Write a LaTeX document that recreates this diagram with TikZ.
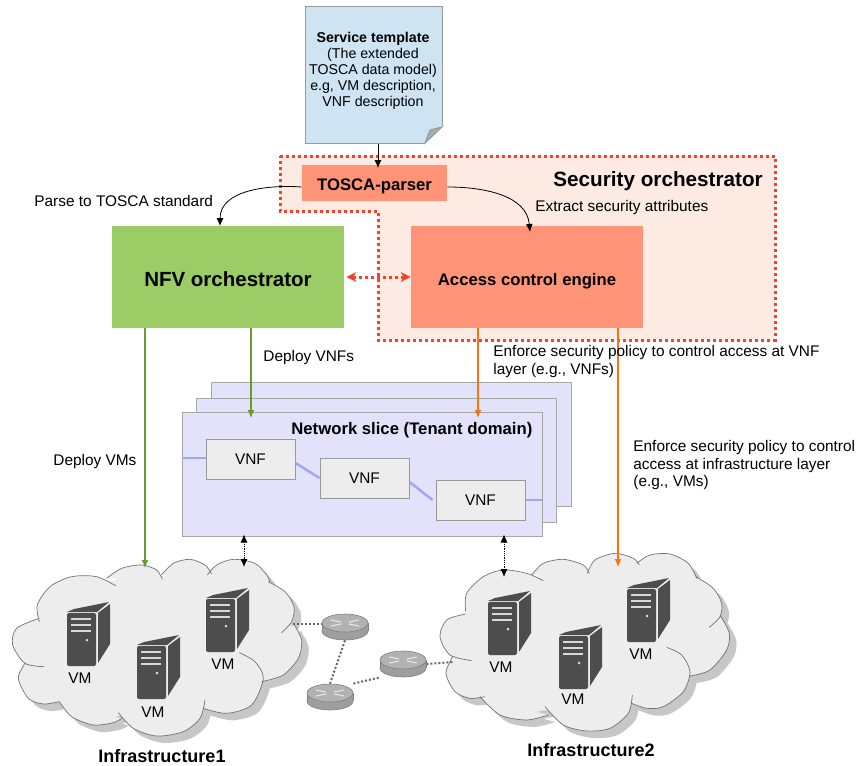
\documentclass[tikz,border=0pt]{standalone}
\usepackage{xcolor}
\usepackage{fontspec}
\setmainfont{Liberation Sans}
\usetikzlibrary{arrows.meta}

\definecolor{docblue}{HTML}{CFE4F2}
\definecolor{salmon}{HTML}{FF9478}
\definecolor{nfvgreen}{HTML}{9CCC65}
\definecolor{secpink}{HTML}{FDEAE3}
\definecolor{secred}{HTML}{F5412A}
\definecolor{slicefill}{HTML}{E2E2FB}
\definecolor{linkblue}{HTML}{A5A5F5}
\definecolor{arrowgreen}{HTML}{6A9B30}
\definecolor{arroworange}{HTML}{F97316}
\definecolor{servergray}{HTML}{4D4D4D}

\tikzset{
  txt/.style = {inner sep=0pt, font=\fontsize{15.4}{17.5}\selectfont, align=left},
  vm/.style = {inner sep=0pt, font=\fontsize{15.4}{17.5}\selectfont},
  boldtxt/.style = {inner sep=0pt, font=\fontsize{16.7}{19}\bfseries\selectfont},
  block/.style = {inner sep=0pt, text depth=0pt},
  slice/.style = {draw=black!35, fill=slicefill, line width=1pt, minimum width=360pt, minimum height=124pt},
  vnf/.style = {draw=black!40, fill=black!7, line width=1pt, minimum width=89pt, minimum height=40pt, font=\fontsize{15.4}{17.5}\selectfont},
  routerbox/.style = {minimum width=46pt, minimum height=26pt, inner sep=0pt},
  link/.style = {linkblue, line width=2.5pt},
  wire/.style = {dash pattern=on 2pt off 2pt, line width=2pt, black!60},
  cloudedge/.style = {draw=black!55, line width=0.7pt},
  % server tower, anchored at the top left of its front face
  server/.pic = {
    \fill[servergray] (7,-4) -- (42,-11) -- (30,-1) -- (0,-1) -- cycle;
    \fill[servergray, rounded corners=2pt] (0,0) rectangle (29,53);
    \fill[servergray] (31,0) -- (43,-9) -- (43,31) -- (31,50) -- cycle;
    \foreach \y in {5,11,17} \fill[white!85!black] (3.5,\y) rectangle (24,\y+2);
    \fill[white!85!black] (20,27) circle (1.5pt);
  },
  % lobes of the two clouds, read off at three times the picture size
  cloudone/.style = {insert path={
    plot[smooth] coordinates {(118,215) (112,165) (150,110) (215,80) (290,80) (348,108)}
    plot[smooth] coordinates {(320,85) (365,55) (425,45) (470,60) (487,88)}
    plot[smooth] coordinates {(485,75) (520,40) (570,28) (615,45) (635,72)}
    plot[smooth] coordinates {(622,75) (650,45) (700,28) (765,40) (800,75) (810,97)}
    plot[smooth] coordinates {(805,95) (855,125) (882,170) (875,215) (845,248)}
    plot[smooth] coordinates {(880,220) (905,270) (895,325) (850,375) (785,395)}
    plot[smooth] coordinates {(718,308) (765,335) (790,385) (755,465) (680,490) (610,475)}
    plot[smooth] coordinates {(615,450) (600,505) (550,545) (470,558) (400,535) (355,488)}
    plot[smooth] coordinates {(365,505) (340,518) (280,525) (215,500) (178,455)}
    plot[smooth] coordinates {(178,455) (130,462) (85,445) (55,385) (75,340)}
    plot[smooth] coordinates {(132,350) (75,340) (38,285) (50,235) (118,205)}
  }},
  cloudtwo/.style = {insert path={
    plot[smooth] coordinates {(497,215) (500,160) (550,110) (610,90) (680,100) (730,122)}
    plot[smooth] coordinates {(695,105) (730,70) (790,58) (850,75) (868,100)}
    plot[smooth] coordinates {(862,100) (885,60) (945,40) (1000,55) (1018,75)}
    plot[smooth] coordinates {(1010,70) (1050,45) (1110,42) (1165,70) (1190,115)}
    plot[smooth] coordinates {(1188,110) (1240,145) (1265,190) (1260,230) (1228,262)}
    plot[smooth] coordinates {(1262,228) (1288,280) (1280,330) (1230,390) (1170,408)}
    plot[smooth] coordinates {(1100,322) (1145,345) (1170,395) (1150,455) (1090,500) (1040,505) (995,490)}
    plot[smooth] coordinates {(997,465) (985,520) (930,565) (860,573) (790,555) (735,500)}
    plot[smooth] coordinates {(745,525) (680,540) (600,525) (540,470)}
    plot[smooth] coordinates {(555,470) (510,475) (465,455) (438,400) (458,350)}
    plot[smooth] coordinates {(515,362) (450,345) (420,290) (440,240) (497,222)}
  }},
  coreone/.style = {insert path={(115,207) -- (215,100) -- (332,95) -- (400,70) -- (485,82) -- (570,50) -- (628,70) -- (700,50) -- (808,97) -- (860,170) -- (872,222) -- (880,300) -- (787,395) -- (700,470) -- (612,475) -- (470,540) -- (358,497) -- (280,510) -- (178,455) -- (100,430) -- (75,340) -- (60,270) -- cycle}},
  coretwo/.style = {insert path={(497,220) -- (600,110) -- (705,112) -- (790,75) -- (865,98) -- (945,60) -- (1014,72) -- (1110,60) -- (1189,112) -- (1245,180) -- (1258,235) -- (1265,320) -- (1170,405) -- (1100,485) -- (996,488) -- (860,555) -- (738,510) -- (660,525) -- (543,472) -- (470,440) -- (452,345) -- (440,280) -- cycle}}
}

% router node with its top disc and four small white arrows
\newcommand{\routernode}[3]{
  \node[routerbox] (#1) at (#2,#3) {};
  \begin{scope}[shift={(#2,#3)}]
    \draw[black!50, fill=black!38, line width=0.6pt] (0,4) ellipse (23pt and 9pt);
    \fill[black!38] (-23,-4) rectangle (23,4);
    \draw[black!50, line width=0.6pt] (-23,-4) -- (-23,4) (23,-4) -- (23,4);
    \draw[black!50, fill=black!30, line width=0.6pt] (0,-4) ellipse (23pt and 9pt);
    \draw[white!90!black, line width=1.1pt] (-14,-7) -- (-4,-5) (4,-3) -- (14,-1) (14,-7) -- (4,-5) (-4,-3) -- (-14,-1);
  \end{scope}
}

\begin{document}
\begin{tikzpicture}[x=1pt, y=-1pt, >={Latex[length=8pt,width=7pt]}, thick]
\useasboundingbox (0,0) rectangle (858,765);

% security orchestrator region
\draw[fill=secpink, draw=secred, dash pattern=on 3pt off 3pt, line width=3pt] (280,156) -- (775,156) -- (775,340) -- (378,340) -- (378,211) -- (280,211) -- cycle;

% clouds
\begin{scope}[shift={(0,550)}, x=0.3333pt, y=-0.3333pt]
\fill[black!22, xshift=7pt, yshift=-7pt, cloudone, coreone];
\fill[black!7, cloudone, coreone];
\draw[cloudedge, cloudone];
\end{scope}
\begin{scope}[shift={(300,540)}, x=0.3333pt, y=-0.3333pt]
\fill[black!22, xshift=7pt, yshift=-7pt, cloudtwo, coretwo];
\fill[black!7, cloudtwo, coretwo];
\draw[cloudedge, cloudtwo];
\end{scope}

% service template
\node[draw=black!40, fill=docblue, line width=1pt, minimum width=137pt, minimum height=136pt, inner sep=0pt] (doc) at (373.5,75) {};
\fill[white] (443,126) -- (443,144) -- (425,144) -- cycle;
\draw[black!40, line width=1pt, fill=black!30!docblue!85] (442,127) -- (430,130) -- (425,143) -- cycle;
\node[txt, align=center, font=\fontsize{14.2}{16}\selectfont] (doctext) at (373,71) {\textbf{Service template}\\(The extended\\TOSCA data model)\\e.g, VM description,\\VNF description};

% main blocks
\node[block, fill=salmon, minimum width=145pt, minimum height=36pt, text height=14pt, font=\fontsize{16.7}{19}\bfseries\selectfont] (parser) at (374.5,183) {TOSCA-parser};
\node[block, fill=nfvgreen, minimum width=232pt, minimum height=102pt, text height=18pt, font=\fontsize{20.5}{24}\bfseries\selectfont] (nfv) at (228,277) {NFV orchestrator};
\node[block, fill=salmon, minimum width=232pt, minimum height=102pt, text height=16pt, font=\fontsize{16.7}{19}\bfseries\selectfont] (ace) at (527,277) {Access control engine};

% network slices
\node[slice] (slice3) at (391.5,444.5) {};
\node[slice] (slice2) at (376.5,460) {};
\node[slice] (slice1) at (362,474) {};
\node[vnf] (vnf1) at (250.5,459) {VNF};
\node[vnf] (vnf2) at (364.5,478) {VNF};
\node[vnf] (vnf3) at (480.5,500) {VNF};
\coordinate (in) at (182,458);
\coordinate (out) at (542,500);
\draw[link] (in) -- (vnf1.west |- in);
\draw[link] ([yshift=-4pt]vnf1.east) -- (vnf2.west);
\draw[link] ([yshift=-4pt]vnf2.east) -- ([xshift=-3pt]vnf3.west);
\draw[link] (vnf3.east) -- (out);

% servers
\pic at (67,613) {server};
\pic at (137,646) {server};
\pic at (206,599) {server};
\pic at (488,602) {server};
\pic at (559,636) {server};
\pic at (627,589) {server};
\node[vm] (vm1) at (80,678) {VM};
\node[vm] (vm2) at (153,712) {VM};
\node[vm] (vm3) at (223,664) {VM};
\node[vm] (vm4) at (501,667) {VM};
\node[vm] (vm5) at (573,699) {VM};
\node[vm] (vm6) at (641,654) {VM};

% routers
\routernode{r1}{345}{627}
\routernode{r2}{330}{697}
\routernode{r3}{403}{664}
\coordinate (edge1) at (293,624);
\coordinate (edge2) at (453,662);
\draw[wire] (edge1) -- (r1.west |- edge1);
\draw[wire] (r1.south) -- (r2.north);
\draw[wire] (r2.north east) -- (r3.south west);
\draw[wire] (r3.east) -- (edge2);

% connectors
\coordinate (tipa) at (378,168);
\coordinate (tipb) at (220,226);
\coordinate (tipc) at (530,232);
\draw[->, line width=0.8pt] (doc.south -| tipa) -- (tipa);
\draw[->, line width=0.8pt] ([yshift=-4pt]parser.west) to [out=176,in=90] (tipb);
\draw[->, line width=0.8pt] ([yshift=-4pt]parser.east) to [out=0,in=95] (tipc);
\draw[<->, secred, dash pattern=on 3pt off 3pt, line width=3pt, >={Stealth[length=10pt,width=10pt]}] (nfv.east) ++(2,0) -- (ace.west);

\coordinate (gtip1) at (251,418);
\coordinate (gtip2) at (145,568);
\coordinate (otip1) at (478,418);
\coordinate (otip2) at (618,567);
\draw[->, arrowgreen, line width=1.1pt] (nfv.south -| gtip1) -- (gtip1);
\draw[->, arrowgreen, line width=1.1pt] (nfv.south -| gtip2) -- (gtip2);
\draw[->, arroworange, line width=1.1pt] (ace.south -| otip1) -- (otip1);
\draw[->, arroworange, line width=1.1pt] (ace.south -| otip2) -- (otip2);

\coordinate (blink1) at (244,567);
\coordinate (blink2) at (504,577);
\draw[<->, densely dotted, line width=0.8pt] (slice1.south -| blink1) ++(0,-2) -- (blink1);
\draw[<->, densely dotted, line width=0.8pt] (slice1.south -| blink2) ++(0,-2) -- (blink2);

% labels
\node[txt, anchor=west] (parselbl) at (34,201) {Parse to TOSCA standard};
\node[txt, anchor=west] (extractlbl) at (535,208) {Extract security attributes};
\node[inner sep=0pt, anchor=west, font=\fontsize{20.7}{24}\bfseries\selectfont] (seclbl) at (553,181) {Security orchestrator};
\node[txt, anchor=west] (vnflbl) at (263,358) {Deploy VNFs};
\node[txt, anchor=west] (vmlbl) at (53,462) {Deploy VMs};
\node[txt, anchor=north west] (enf1) at (493,345) {Enforce security policy to control access at VNF\\layer (e.g., VNFs)};
\node[txt, anchor=north west] (enf2) at (633,440) {Enforce security policy to control\\access at infrastructure layer\\(e.g., VMs)};
\node[boldtxt, anchor=west] (slicelbl) at (291,430) {Network slice (Tenant domain)};
\node[boldtxt, font=\fontsize{18}{21}\bfseries\selectfont] (inf1) at (162,756) {Infrastructure1};
\node[boldtxt, font=\fontsize{18}{21}\bfseries\selectfont] (inf2) at (591,750) {Infrastructure2};
\end{tikzpicture}
\end{document}
